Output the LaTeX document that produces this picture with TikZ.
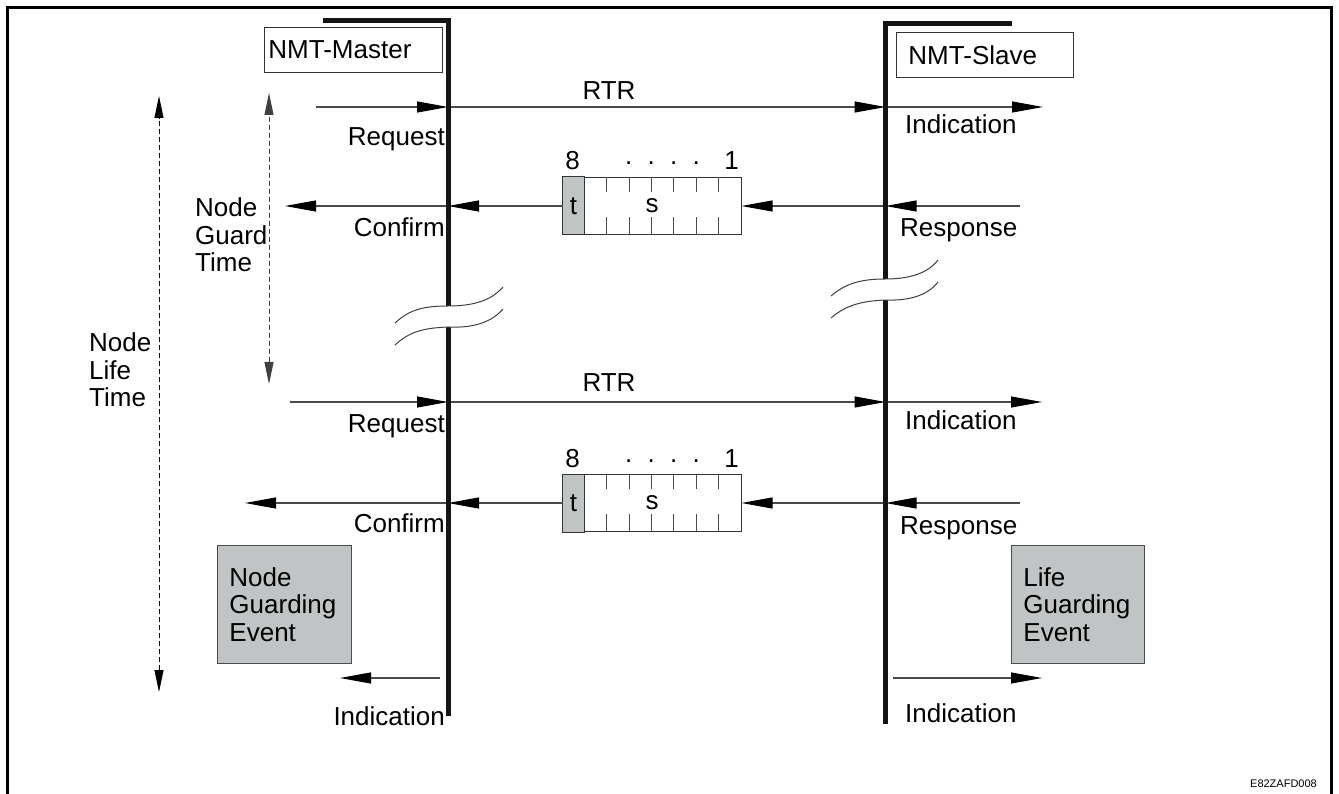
\documentclass[tikz,border=0pt]{standalone}
\usepackage{fontspec}
\setmainfont{Liberation Sans}
\usetikzlibrary{arrows.meta,calc}
\definecolor{boxgray}{HTML}{C1C4C5}
\definecolor{linegray}{HTML}{4A4A4A}
\newcommand{\lblfont}{\fontsize{26}{27.5}\selectfont}
\tikzset{
  msg/.style={draw=linegray, line width=1.1pt, -{Triangle[length=31pt,width=11pt,fill=black,color=black]}},
  lifeline/.style={line width=5pt, draw=black!92, line join=miter},
  breakline/.style={draw=black!75, line width=1pt},
  lbl/.style={inner sep=0pt, font=\lblfont},
  mlbl/.style={inner sep=0pt, font=\lblfont, align=left, anchor=north west},
  titlebox/.style={draw=black!80, line width=0.9pt, anchor=north west, minimum height=45pt, align=left, font=\lblfont},
  eventbox/.style={draw=black!70, fill=boxgray, line width=0.9pt, anchor=north west, minimum width=134pt, minimum height=118pt, inner xsep=12pt, text width=110pt, align=left, font=\lblfont},
  pkt/.style={draw=black!80, line width=1pt, minimum width=178pt, minimum height=57pt, inner sep=0pt, font=\lblfont},
  pkttick/.style={draw=black!70, line width=0.8pt},
  dimarrow/.style={line width=1pt, dash pattern=on 5pt off 3pt, {Triangle[length=22pt,width=9pt]}-{Triangle[length=22pt,width=9pt]}},
}
\newcommand{\packet}[3]{%
  \node[pkt] (#1) at (#2,#3) {s};
  \filldraw[fill=boxgray, draw=black!80, line width=1pt] (#1.north west) rectangle ($(#1.south west)+(22,0)$);
  \node[lbl] (#1t) at ($(#1.west)+(11,0)$) {t};
  \foreach \i in {1,...,6} {
    \draw[pkttick] ($(#1.north west)+(22+\i*22.33,0)$) -- ++(0,15);
    \draw[pkttick] ($(#1.south west)+(22+\i*22.33,0)$) -- ++(0,-18);
  }
  \node[lbl, anchor=base] (#1eight) at ($(#1.north west)+(10,-7)$) {8};
  \node[lbl, anchor=base] (#1dots) at ($(#1.north west)+(100,-12)$) {.\hspace{15.3pt}.\hspace{15.3pt}.\hspace{15.3pt}.};
  \node[lbl, anchor=base] (#1one) at ($(#1.north east)+(-10,-7)$) {1};
}
\begin{document}
\begin{tikzpicture}[x=1pt,y=-1pt]
\useasboundingbox (0,0) rectangle (1339,794);
% outer frame (open at bottom)
\draw[line width=3pt] (7,794) -- (7,8) -- (1331,8) -- (1331,794);

% title boxes
\node[titlebox, minimum width=178pt, text width=170pt, inner xsep=4pt] (master) at (264,27) {NMT-Master};
\node[titlebox, minimum width=177pt, text width=153pt, inner xsep=12pt] (slave) at (896,32) {NMT-Slave};

% coordinates on lifelines
\coordinate (mtopL) at (323,21);
\coordinate (mtop) at (448,21);
\coordinate (mbrkA) at (448,306);
\coordinate (mbrkB) at (448,327);
\coordinate (mbot) at (448,716);
\coordinate (stopR) at (1012,24);
\coordinate (stop) at (885.5,24);
\coordinate (sbrkA) at (885.5,279);
\coordinate (sbrkB) at (885.5,300);
\coordinate (sbot) at (885.5,724);

% row 1: RTR request
\coordinate (req1) at (316,107);
\coordinate (m1) at (448,107);
\coordinate (s1) at (885.5,107);
\coordinate (ind1) at (1043,107);
\draw[msg] (req1) -- (m1);
\draw[msg] (m1) -- (s1);
\draw[msg] (s1) -- (ind1);
\node[lbl, anchor=base] (rtr1) at (609,100) {RTR};
\node[lbl, anchor=base east] (lreq1) at (445,146) {Request};
\node[lbl, anchor=base west] (lind1) at (905,134) {Indication};

% row 2: response
\packet{pk1}{652}{206}
\coordinate (resp2) at (1020,206);
\coordinate (s2) at (885.5,206);
\coordinate (m2) at (448,206);
\coordinate (conf2) at (285,206);
\draw[msg] (resp2) -- (s2);
\draw[msg] (s2) -- (pk1.east);
\draw[msg] (pk1.west) -- (m2);
\draw[msg] (m2) -- (conf2);
\node[lbl, anchor=base east] (lconf2) at (445,237) {Confirm};
\node[lbl, anchor=base west] (lresp2) at (900,237) {Response};

% row 3: RTR request
\coordinate (req3) at (290,402);
\coordinate (m3) at (448,402);
\coordinate (s3) at (885.5,402);
\coordinate (ind3) at (1042,402);
\draw[msg] (req3) -- (m3);
\draw[msg] (m3) -- (s3);
\draw[msg] (s3) -- (ind3);
\node[lbl, anchor=base] (rtr3) at (609,391) {RTR};
\node[lbl, anchor=base east] (lreq3) at (445,432) {Request};
\node[lbl, anchor=base west] (lind3) at (905,429) {Indication};

% row 4: response
\packet{pk2}{652}{503}
\coordinate (resp4) at (1020,503);
\coordinate (s4) at (885.5,503);
\coordinate (m4) at (448,503);
\coordinate (conf4) at (245,503);
\draw[msg] (resp4) -- (s4);
\draw[msg] (s4) -- (pk2.east);
\draw[msg] (pk2.west) -- (m4);
\draw[msg] (m4) -- (conf4);
\node[lbl, anchor=base east] (lconf4) at (445,532) {Confirm};
\node[lbl, anchor=base west] (lresp4) at (900,534) {Response};

% bottom indications
\coordinate (m5) at (440,678);
\coordinate (ind5m) at (340,678);
\coordinate (s5) at (893,678);
\coordinate (ind5s) at (1042,678);
\draw[msg] (m5) -- (ind5m);
\draw[msg] (s5) -- (ind5s);
\node[lbl, anchor=base east] (lind5m) at (445,725) {Indication};
\node[lbl, anchor=base west] (lind5s) at (905,722) {Indication};

% event boxes
\node[eventbox] (nge) at (217,545) {Node\\Guarding\\Event};
\node[eventbox, minimum width=133pt, text width=109pt] (lge) at (1011,545) {Life\\Guarding\\Event};

% lifelines
\draw[lifeline] (mtopL) -- (mtop) -- (mbrkA);
\draw[lifeline] (mbrkB) -- (mbot);
\draw[lifeline] (stopR) -- (stop) -- (sbrkA);
\draw[lifeline] (sbrkB) -- (sbot);

% break marks
\draw[breakline] (395,323) .. controls (410,309) and (425,306) .. (mbrkA) .. controls (470,306) and (490,302) .. (503,287);
\draw[breakline] (395,345) .. controls (410,331) and (425,328) .. (mbrkB) .. controls (470,328) and (490,324) .. (503,309);
\draw[breakline] (831,296) .. controls (846,283) and (862,279) .. (sbrkA) .. controls (910,279) and (928,273) .. (938,260);
\draw[breakline] (831,318) .. controls (846,305) and (862,301) .. (sbrkB) .. controls (910,301) and (928,295) .. (938,282);

% time spans
\coordinate (lifeTop) at (159,96);
\coordinate (lifeBot) at (159,692);
\coordinate (guardTop) at (269,93);
\coordinate (guardBot) at (269,384);
\draw[dimarrow, black] (lifeBot) -- (lifeTop);
\draw[dimarrow, black!75] (guardBot) -- (guardTop);
\node[mlbl] (lguard) at (195,197.5) {Node\\Guard\\Time};
\node[mlbl] (llife) at (89,332.5) {Node\\Life\\Time};

% figure id
\node[inner sep=0pt, anchor=base east, font=\fontsize{11}{13}\selectfont] (figid) at (1317,787) {E82ZAFD008};
\end{tikzpicture}
\end{document}
